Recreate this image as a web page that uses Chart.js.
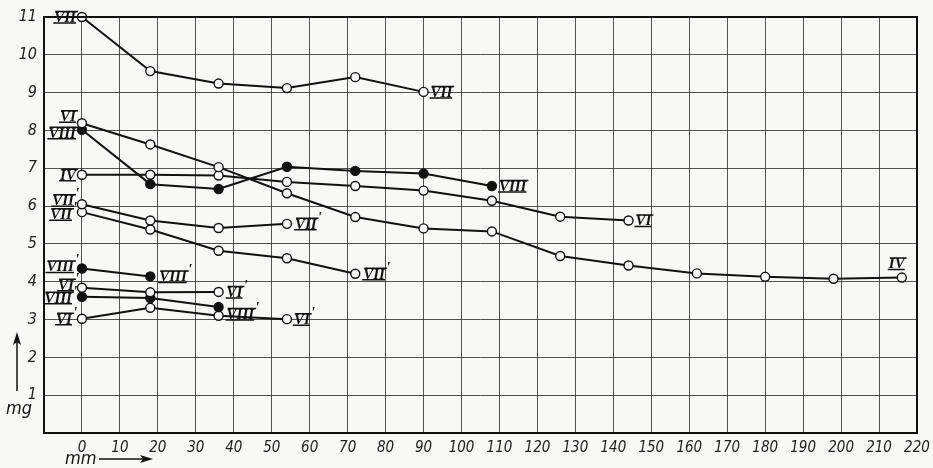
<!DOCTYPE html>
<html>
<head>
<meta charset="utf-8">
<script src="https://cdn.jsdelivr.net/npm/chart.js@4.4.1/dist/chart.umd.min.js"></script>
<style>
  html, body { margin: 0; padding: 0; background: #f8f8f7; }
  #wrap { width: 933px; height: 468px; position: relative; }
</style>
</head>
<body>
<div id="wrap"><canvas id="mgChart"></canvas></div>
<script>
// distance along the sample (mm) at which each measurement was taken
const positionsMm = [0, 18, 36, 54, 72, 90, 108, 126, 144, 162, 180, 198, 216];

const xTicks = [-10, 0, 10, 20, 30, 40, 50, 60, 70, 80, 90, 100, 110, 120, 130, 140, 150, 160, 170, 180, 190, 200, 210, 220];
const yTicks = [0, 1, 2, 3, 4, 5, 6, 7, 8, 9, 10, 11];

// values in mg, one array per curve (read from the plate)
const curveVII = [11.0, 9.57, 9.24, 9.12, 9.41, 9.02];
const curveVI = [8.19, 7.63, 7.03, 6.34, 5.71, 5.41, 5.33, 4.68, 4.43, 4.22, 4.13, 4.08, 4.11];
const curveVIII = [8.02, 6.58, 6.45, 7.04, 6.93, 6.86, 6.53];
const curveIV = [6.83, 6.83, 6.81, 6.64, 6.53, 6.41, 6.14, 5.72, 5.62];
const curveVIIa = [6.05, 5.62, 5.42, 5.53];
const curveVIIb = [5.84, 5.38, 4.82, 4.62, 4.21];
const curveVIIIa = [4.35, 4.14];
const curveVIa = [3.84, 3.72, 3.73];
const curveVIIIb = [3.6, 3.57, 3.33];
const curveVIb = [3.02, 3.31, 3.1, 3.01];

const curveNames = [
  ['VII', 'VII'], ['VI', 'IV'], ['VIII', 'VIII'], ['IV', 'VI'],
  ["VII'", "VII'"], ["VII'", "VII'"], ["VIII'", "VIII'"], ["VI'", "VI'"],
  ["VIII'", "VIII'"], ["VI'", "VI'"]
];
const curves = [curveVII, curveVI, curveVIII, curveIV, curveVIIa, curveVIIb, curveVIIIa, curveVIa, curveVIIIb, curveVIb];
const filled = [false, false, true, false, false, false, true, false, true, false];

// label placement relative to the first / last point, in pixels
const startOffsets = [[-6, 0], [-6, -7], [-6, 3], [-6, 0], [-4, -4], [-6, 2], [-4, -2], [-4, -3], [-6, 1], [-6, 0]];
const endOffsets = [[7, 0], [-13, -14], [7, 0], [7, 0], [8, 0], [8, 0], [9, 0], [8, 0], [8, 7], [7, 0]];

const numeralFont = 'italic bold 15px "Liberation Serif", "DejaVu Serif", serif';
const tickFont = { family: '"Liberation Sans Narrow", "DejaVu Sans Condensed", "Liberation Sans", sans-serif', style: 'italic', size: 16 };

function drawNumeral(ctx, text, x, y, align) {
  const prime = text.endsWith("'");
  const base = prime ? text.slice(0, -1) : text;
  ctx.font = numeralFont;
  const w = ctx.measureText(base).width;
  const extra = prime ? 4 : 0;
  let left = x;
  if (align === 'right') left = x - w - extra;
  ctx.textAlign = 'left';
  ctx.textBaseline = 'middle';
  ctx.fillText(base, left, y + 1);
  ctx.lineWidth = 1.5;
  ctx.beginPath();
  ctx.moveTo(left + 1, y - 5.5);
  ctx.lineTo(left + w + 2, y - 5.5);
  ctx.moveTo(left - 1, y + 6);
  ctx.lineTo(left + w, y + 6);
  ctx.stroke();
  if (prime) {
    ctx.fillText("'", left + w + 1, y - 6);
  }
}

const background = {
  id: 'background',
  beforeDraw(chart) {
    const ctx = chart.ctx;
    ctx.save();
    ctx.fillStyle = '#f8f8f7';
    ctx.fillRect(0, 0, chart.width, chart.height);
    ctx.restore();
  }
};

const frameAndLabels = {
  id: 'frameAndLabels',
  afterDraw(chart) {
    const ctx = chart.ctx;
    const area = chart.chartArea;
    ctx.save();
    ctx.strokeStyle = '#111';
    ctx.lineWidth = 2;
    ctx.strokeRect(area.left, area.top, area.right - area.left, area.bottom - area.top);

    ctx.fillStyle = '#111';
    ctx.strokeStyle = '#111';
    chart.data.datasets.forEach((ds, i) => {
      const pts = chart.getDatasetMeta(i).data;
      const first = pts[0];
      const last = pts[pts.length - 1];
      drawNumeral(ctx, curveNames[i][0], first.x + startOffsets[i][0], first.y + startOffsets[i][1], 'right');
      drawNumeral(ctx, curveNames[i][1], last.x + endOffsets[i][0], last.y + endOffsets[i][1], 'left');
    });

    // axis captions with arrows
    ctx.font = 'italic 18px "Liberation Sans Narrow", "DejaVu Sans Condensed", sans-serif';
    ctx.textBaseline = 'middle';
    ctx.textAlign = 'left';
    ctx.fillText('mm', 65, 459);
    ctx.fillText('mg', 6, 409);
    ctx.lineWidth = 1.5;
    ctx.beginPath();
    ctx.moveTo(99, 459);
    ctx.lineTo(150, 459);
    ctx.moveTo(17, 391);
    ctx.lineTo(17, 336);
    ctx.stroke();
    ctx.beginPath();
    ctx.moveTo(153, 459);
    ctx.lineTo(140, 455);
    ctx.lineTo(143, 459);
    ctx.lineTo(140, 463);
    ctx.closePath();
    ctx.moveTo(17, 332);
    ctx.lineTo(13, 345);
    ctx.lineTo(17, 342);
    ctx.lineTo(21, 345);
    ctx.closePath();
    ctx.fill();
    ctx.restore();
  }
};

const datasets = curves.map((values, i) => ({
  data: values.map((v, k) => ({ x: positionsMm[k], y: v })),
  borderColor: '#111',
  borderWidth: 2,
  pointRadius: 4.5,
  pointBorderWidth: 1.4,
  pointBorderColor: '#111',
  pointBackgroundColor: filled[i] ? '#111' : '#fbfbfb',
  tension: 0,
  fill: false,
  clip: false
}));

new Chart(document.getElementById('mgChart'), {
  type: 'line',
  data: { datasets },
  options: {
    responsive: true,
    maintainAspectRatio: false,
    animation: false,
    events: [],
    layout: { padding: { top: 17, right: 16, left: 0, bottom: 0 } },
    plugins: {
      legend: { display: false },
      tooltip: { enabled: false }
    },
    scales: {
      x: {
        type: 'linear',
        min: -10,
        max: 220,
        afterBuildTicks(axis) { axis.ticks = xTicks.map(v => ({ value: v })); },
        afterFit(axis) {
          axis.height = 35;
          axis.paddingLeft = 0;
          axis.paddingRight = 0;
        },
        ticks: {
          color: '#222',
          font: { ...tickFont, size: 15 },
          padding: 6,
          maxRotation: 0,
          autoSkip: false,
          callback: (v) => (v < 0 ? '' : v)
        },
        grid: { color: 'rgba(30,30,30,0.75)', lineWidth: 1, drawTicks: false },
        border: { display: false }
      },
      y: {
        min: 0,
        max: 11,
        afterBuildTicks(axis) { axis.ticks = yTicks.map(v => ({ value: v })); },
        afterFit(axis) { axis.width = 44; },
        ticks: {
          color: '#222',
          font: tickFont,
          padding: 7,
          callback: (v) => (v === 0 ? '' : v)
        },
        grid: { color: 'rgba(30,30,30,0.75)', lineWidth: 1, drawTicks: false },
        border: { display: false }
      }
    }
  },
  plugins: [background, frameAndLabels]
});
</script>
</body>
</html>
